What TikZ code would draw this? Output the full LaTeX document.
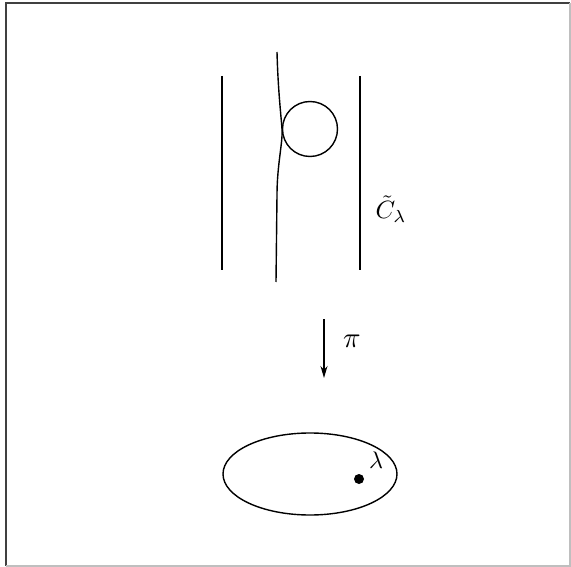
\documentclass[tikz,border=0pt]{standalone}
\usepackage{graphicx}
\usetikzlibrary{arrows.meta}
\begin{document}
\begin{tikzpicture}[x=1pt,y=-1pt,line width=1.4pt,
  lbl/.style={inner sep=0pt}]
\useasboundingbox (0,0) rectangle (571,567);
\coordinate (f1) at (6,566); \coordinate (f2) at (6,3);
\coordinate (f3) at (570,3); \coordinate (f4) at (570,566);
\draw[line width=1.8pt,black!75] (f1) -- (f2) -- (f3);
\draw[line width=1.2pt,black!25] (f3) -- (f4) -- (f1);
% vertical lines
\coordinate (lt) at (222,76); \coordinate (lb) at (222,270);
\coordinate (rt) at (360,76); \coordinate (rb) at (360,270);
\draw (lt) -- (lb);
\draw (rt) -- (rb);
% strand
\coordinate (st) at (277,52);
\coordinate (sx) at (282,129);
\coordinate (sb) at (276,282);
\draw (st) .. controls (278,90) and (281,115) .. (sx)
      .. controls (283,142) and (277,165) .. (277,195) -- (sb);
% loop circle
\node[draw,circle,minimum size=55pt,inner sep=0pt,line width=1.4pt] (loop) at (310,129) {};
\node[lbl] (C) at (391,209) {\scalebox{2.5}{$\tilde{C}_\lambda$}};
% projection arrow
\coordinate (at) at (324,319);
\coordinate (ab) at (324,378);
\draw[-{Stealth[length=12pt,width=7pt]}] (at) -- (ab);
\node[lbl] (pi) at (352,341) {\scalebox{2.9}{$\pi$}};
% base ellipse
\draw (310,474) ellipse (87pt and 41pt);
\fill (359,479) circle (5pt) coordinate (dot);
\node[lbl] (lam) at (376,460) {\scalebox{2.4}{$\lambda$}};
\end{tikzpicture}
\end{document}
